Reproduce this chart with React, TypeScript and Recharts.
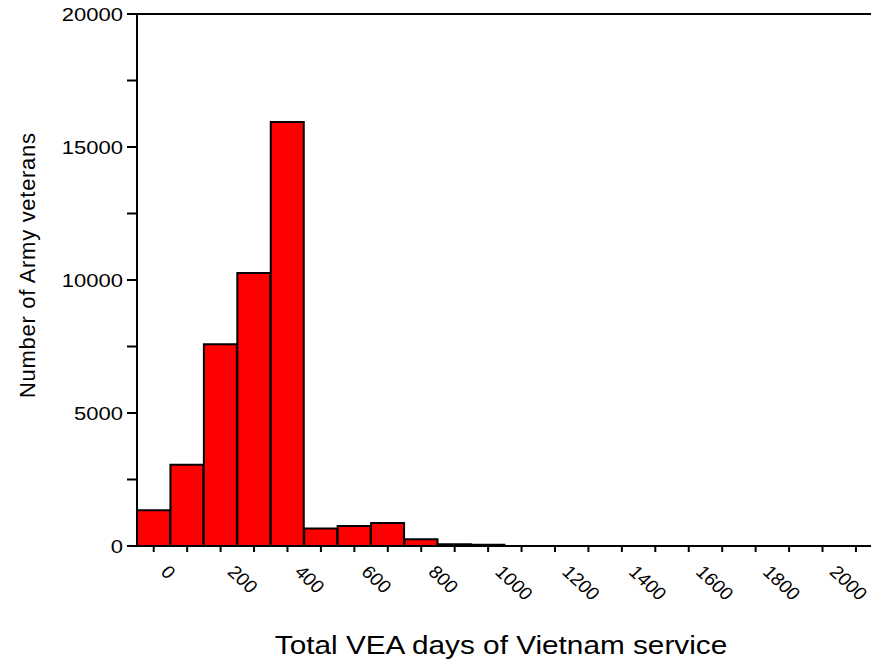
import React from 'react';
import { BarChart, Bar, XAxis, YAxis, ReferenceLine, Label } from 'recharts';

// histogram bins (centre of each 100-day bin) and counts
const dayBins = [0, 100, 200, 300, 400, 500, 600, 700, 800, 900, 1000];
const veterans = [1340, 3050, 7580, 10260, 15940, 660, 750, 860, 250, 70, 50];

const xTicks = [0, 100, 200, 300, 400, 500, 600, 700, 800, 900, 1000, 1100, 1200, 1300, 1400, 1500, 1600, 1700, 1800, 1900, 2000, 2100];
const yTicks = [0, 2500, 5000, 7500, 10000, 12500, 15000, 17500, 20000];

const data = dayBins.map((d, i) => ({ days: d, count: veterans[i] }));

const FONT = '"Liberation Sans", Arial, Helvetica, sans-serif';
const STRETCH = 1.19; // the original text is a little wider than plain Arial

const XTick = (props: any) => {
  const { x, y, payload } = props;
  if (payload.value % 200 !== 0) return <g />;
  return (
    <g transform={`translate(${x + 6},${y + 19}) scale(1.08,1) rotate(45)`}>
      <text textAnchor="start" fontSize={18} fill="#000" fontFamily={FONT}>
        {payload.value}
      </text>
    </g>
  );
};

const YTick = (props: any) => {
  const { x, y, payload } = props;
  if (payload.value % 5000 !== 0) return <g />;
  return (
    <g transform={`translate(${x},${y}) scale(${STRETCH},1)`}>
      <text dy="0.36em" textAnchor="end" fontSize={18.5} fill="#000" fontFamily={FONT}>
        {payload.value}
      </text>
    </g>
  );
};

export default function App() {
  return (
    <div style={{ position: 'absolute', left: 0, top: 0, width: 871, height: 662, background: '#fff' }}>
      <BarChart
        width={871}
        height={662}
        data={data}
        margin={{ top: 14, right: 0, bottom: 0, left: 0 }}
        barCategoryGap={0}
        barGap={0}
      >
        <XAxis
          type="number"
          dataKey="days"
          domain={[-50, 2145]}
          ticks={xTicks}
          interval={0}
          height={116}
          tickSize={6}
          tickMargin={2}
          axisLine={{ stroke: '#000', strokeWidth: 2 }}
          tickLine={{ stroke: '#000', strokeWidth: 2 }}
          tick={<XTick />}
          allowDataOverflow
        >
          <Label
            content={() => (
              <g transform={`translate(501,654) scale(${STRETCH},1)`}>
                <text textAnchor="middle" fontSize={25} fill="#000" fontFamily={FONT}>
                  Total VEA days of Vietnam service
                </text>
              </g>
            )}
          />
        </XAxis>
        <YAxis
          type="number"
          domain={[0, 20000]}
          ticks={yTicks}
          interval={0}
          width={137}
          tickSize={10}
          tickMargin={4}
          axisLine={{ stroke: '#000', strokeWidth: 2 }}
          tickLine={{ stroke: '#000', strokeWidth: 2 }}
          tick={<YTick />}
        >
          <Label
            content={() => (
              <text transform="rotate(-90)" x={-265.5} y={35} textAnchor="middle" fontSize={22} textLength={265} lengthAdjust="spacing" fill="#000" fontFamily={FONT}>
                Number of Army veterans
              </text>
            )}
          />
        </YAxis>
        <ReferenceLine y={20000} stroke="#000" strokeWidth={2} />
        <Bar dataKey="count" fill="#ff0000" stroke="#000" strokeWidth={2} isAnimationActive={false} />
      </BarChart>
    </div>
  );
}
